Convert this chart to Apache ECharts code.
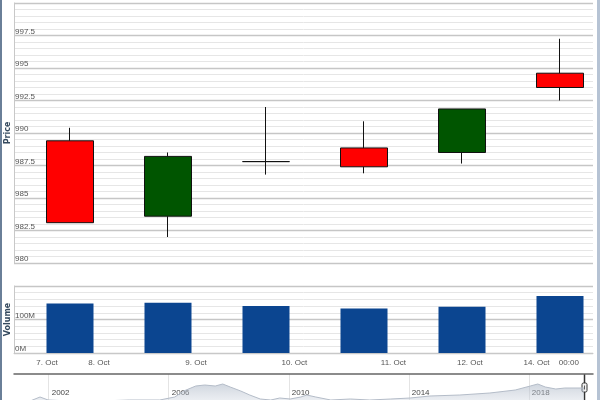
<!DOCTYPE html>
<html>
<head>
<meta charset="utf-8">
<script src="https://cdn.jsdelivr.net/npm/echarts@6/dist/echarts.min.js"></script>
<style>html,body{margin:0;padding:0;background:#fff}#c{width:600px;height:400px}</style>
</head>
<body>
<div id="c"></div>
<script>
// ---- data ----
const candleX = [0, 1, 2, 3, 4, 5];
const opens  = [989.4, 983.6, 987.8, 988.85, 988.5, 994.6];
const closes = [983.1, 988.2, 987.8, 987.4, 991.85, 993.5];
const lows   = [983.1, 982.0, 986.8, 986.9, 987.65, 992.5];
const highs  = [990.4, 988.5, 992.0, 990.9, 991.85, 997.25];
const volumes = [148e6, 150e6, 140e6, 133e6, 138e6, 170e6];
const tickPositions = [-0.235, 0.296, 1.286, 2.29, 3.30, 4.08, 4.76, 5.09];
const tickLabels = ['7. Oct', '8. Oct', '9. Oct', '10. Oct', '11. Oct', '12. Oct', '14. Oct', '00:00'];
const navYears = [2000.84, 2001.38, 2001.71, 2001.98, 2002.7, 2003.7, 2004.7, 2005.7, 2006.2, 2006.5, 2006.9, 2007.2, 2007.55, 2007.8, 2008.05, 2008.4, 2008.7, 2009.05, 2009.4, 2009.7, 2010.05, 2010.4, 2010.6, 2010.9, 2011.4, 2012.05, 2012.7, 2013.4, 2014.05, 2014.7, 2015.7, 2016.7, 2017.55, 2018.05, 2018.3, 2018.55, 2018.9, 2019.2, 2019.84];
const navValues = [5, 7, 11, 8, 7, 7, 8, 8, 11, 17, 22, 23, 22, 24, 21, 17, 13, 9, 8, 10, 9, 11, 13, 11, 8, 9, 8, 9, 10, 12, 13, 15, 18, 22, 24, 21, 19, 20, 20];
const navYearTicks = [2002, 2006, 2010, 2014, 2018];

// ---- build ----
const candleData = candleX.map((x, i) => [x, opens[i], closes[i], lows[i], highs[i]]);
const volumeData = candleX.map((x, i) => [x, volumes[i]]);
const navData = navYears.map((y, i) => [y, navValues[i]]);
const xMin = -0.5714, xMax = 5.3367;
const labelFont = {fontFamily: 'Liberation Sans, Arial, sans-serif', fontSize: 8, color: '#555'};
const titleStyle = {fontFamily: 'DejaVu Sans, sans-serif', fontSize: 8, fontWeight: 'bold', color: '#34495e'};

const chart = echarts.init(document.getElementById('c'), null, {renderer: 'canvas'});
chart.setOption({
  animation: false,
  backgroundColor: '#fff',
  grid: [
    {left: 14, right: 7, top: 3, height: 260, outerBoundsMode: 'none', containLabel: false},
    {left: 14, right: 7, top: 286, height: 67, outerBoundsMode: 'none', containLabel: false},
    {left: 14, right: 7, top: 374, bottom: -8, outerBoundsMode: 'none', containLabel: false}
  ],
  xAxis: [
    {type: 'value', gridIndex: 0, min: xMin, max: xMax, show: false, splitLine: {show: false}},
    {type: 'value', gridIndex: 1, min: xMin, max: xMax,
      axisLine: {show: true, onZero: false, lineStyle: {color: '#c8c8c8'}},
      axisTick: {show: false},
      splitLine: {show: false},
      axisLabel: Object.assign({customValues: tickPositions, margin: 6,
        formatter: v => { const i = tickPositions.indexOf(v); return i >= 0 ? tickLabels[i] : ''; }}, labelFont)
    },
    {type: 'value', gridIndex: 2, min: 2000.843, max: 2020.14, position: 'top',
      axisLine: {show: true, onZero: false, lineStyle: {color: '#666', width: 1.5}},
      axisTick: {show: false, customValues: navYearTicks},
      splitLine: {show: true, lineStyle: {color: '#e4e4e4'}},
      axisLabel: Object.assign({customValues: navYearTicks, inside: true, margin: 15, align: 'left', padding: [0, 0, 0, 3],
        formatter: v => String(v)}, labelFont, {color: '#444'})
    }
  ],
  yAxis: [
    {type: 'value', gridIndex: 0, min: 980, max: 1000, interval: 2.5,
      name: 'Price', nameLocation: 'middle', nameGap: 2, nameMoveOverlap: false, nameTextStyle: titleStyle,
      axisLine: {show: true, onZero: false, lineStyle: {color: '#c8c8c8'}},
      axisTick: {show: false},
      axisLabel: Object.assign({inside: true, margin: 1, verticalAlign: 'bottom', showMaxLabel: false}, labelFont),
      splitLine: {show: true, lineStyle: {color: '#c6c6c6', width: 1.3}},
      minorTick: {show: false, splitNumber: 5},
      minorSplitLine: {show: true, lineStyle: {color: '#e6e6e6'}}
    },
    {type: 'value', gridIndex: 1, min: 0, max: 200e6, interval: 100e6,
      name: 'Volume', nameLocation: 'middle', nameGap: 2, nameMoveOverlap: false, nameTextStyle: titleStyle,
      axisLine: {show: true, onZero: false, lineStyle: {color: '#c8c8c8'}},
      axisTick: {show: false},
      axisLabel: Object.assign({inside: true, margin: 1, verticalAlign: 'bottom', showMaxLabel: false,
        formatter: v => (v / 1e6) + 'M'}, labelFont),
      splitLine: {show: true, lineStyle: {color: '#c6c6c6', width: 1.3}},
      minorTick: {show: false, splitNumber: 5},
      minorSplitLine: {show: true, lineStyle: {color: '#e6e6e6'}}
    },
    {type: 'value', gridIndex: 2, min: 0, max: 34, show: false, splitLine: {show: false}}
  ],
  series: [
    {type: 'candlestick', xAxisIndex: 0, yAxisIndex: 0, data: candleData,
      encode: {x: 0, y: [1, 2, 3, 4]}, barWidth: 47,
      itemStyle: {color: '#005500', color0: '#ff0000', borderColor: '#111', borderColor0: '#111', borderWidth: 1}
    },
    {type: 'bar', xAxisIndex: 1, yAxisIndex: 1, data: volumeData, barWidth: 47,
      itemStyle: {color: '#0b4590'}
    },
    {type: 'line', xAxisIndex: 2, yAxisIndex: 2, data: navData, symbol: 'none',
      lineStyle: {color: '#b4bcc8', width: 1},
      areaStyle: {color: new echarts.graphic.LinearGradient(0, 0, 0, 1, [
        {offset: 0, color: 'rgba(160,172,190,0.7)'}, {offset: 1, color: 'rgba(235,238,243,0.6)'}])}
    }
  ],
  graphic: [
    {type: 'rect', left: 0, top: 0, z: -1, shape: {width: 2, height: 400}, style: {fill: '#6a7f98'}},
    {type: 'rect', left: 597, top: 0, shape: {width: 3, height: 400}, style: {fill: '#b6c3d4'}},
    {type: 'line', shape: {x1: 584.5, y1: 374, x2: 584.5, y2: 400}, style: {stroke: '#333', lineWidth: 1.5}},
    {type: 'rect', shape: {x: 582, y: 383, width: 5, height: 9, r: 1.5}, style: {fill: '#f2f2f2', stroke: '#333', lineWidth: 1}},
    {type: 'line', shape: {x1: 584.5, y1: 385.5, x2: 584.5, y2: 389.5}, style: {stroke: '#333', lineWidth: 0.8}}
  ]
});
</script>
</body>
</html>
